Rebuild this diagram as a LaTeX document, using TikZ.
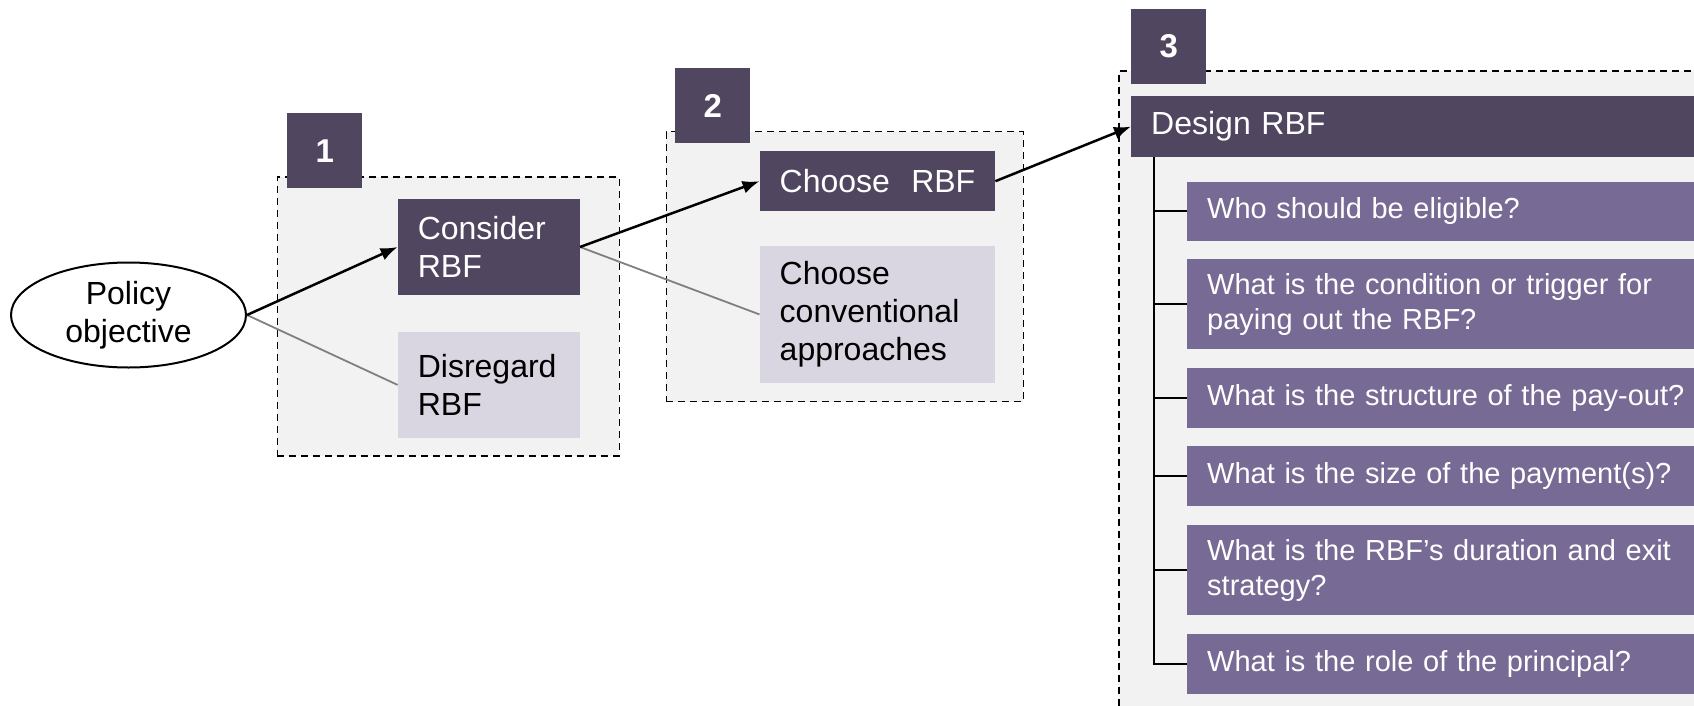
\documentclass[tikz,border=0pt]{standalone}
\usepackage{fontspec}
\setmainfont{Liberation Sans}
\usetikzlibrary{arrows.meta,shapes.geometric,calc}
\definecolor{darkp}{HTML}{504660}
\definecolor{itemp}{HTML}{776A94}
\definecolor{lightp}{HTML}{D9D6E2}
\definecolor{panel}{HTML}{F2F2F2}
\definecolor{link}{HTML}{808080}
\begin{document}
\begin{tikzpicture}[x=1pt,y=-1pt,
  bigtext/.style={font=\fontsize{32}{38}\selectfont},
  smalltext/.style={font=\fontsize{29}{34.6}\selectfont},
  stage/.style={draw=black,line width=1.7pt,dash pattern=on 7pt off 5pt,fill=panel,
    anchor=north west,inner sep=0pt},
  numbox/.style={fill=darkp,text=white,anchor=north west,minimum width=75pt,minimum height=75pt,
    inner sep=0pt,font=\fontsize{33}{38}\selectfont\bfseries},
  darkbox/.style={fill=darkp,text=white,anchor=north west,inner xsep=20pt,inner ysep=0pt,align=left,bigtext},
  lightbox/.style={fill=lightp,text=black,anchor=north west,inner xsep=20pt,inner ysep=0pt,align=left,bigtext},
  qbox/.style={fill=itemp,text=white,anchor=north west,inner xsep=20pt,inner ysep=0pt,align=left,
    minimum width=560pt,text width=520pt,smalltext},
  go/.style={line width=2.5pt,-{Latex[length=17pt,width=13pt]}},
  alt/.style={draw=link,line width=1.8pt},
  tree/.style={draw=black,line width=2pt}]
\clip (0,0) rectangle (1694,706);

% stage containers
\node[stage,minimum width=342pt,minimum height=279pt] (s1) at (276.6,176) {};
\node[stage,minimum width=357pt,minimum height=270pt] (s2) at (665.5,130.7) {};
\node[stage,minimum width=650pt,minimum height=700pt] (s3) at (1118,70) {};

% stage numbers
\node[numbox] (n1) at (287,113) {1};
\node[numbox] (n2) at (675,68) {2};
\node[numbox] (n3) at (1131,8.6) {3};

% start
\node[ellipse,draw=black,line width=2pt,minimum width=235pt,minimum height=105pt,inner sep=0pt,
  align=center,bigtext] (pol) at (128.5,315) {Policy\\objective};

% stage 1
\node[darkbox,minimum width=182pt,minimum height=96pt,text width=142pt] (cons) at (397.6,198.8) {Consider\\RBF};
\node[lightbox,minimum width=182pt,minimum height=106pt,text width=142pt] (disr) at (397.6,331.7) {Disregard\\RBF};

% stage 2
\node[darkbox,minimum width=235.5pt,minimum height=60pt,text width=195.5pt] (chrbf) at (759.5,151) {Choose~~RBF};
\node[lightbox,minimum width=235.5pt,minimum height=136.5pt,text width=195.5pt] (conv) at (759.5,246) {Choose\\conventional\\approaches};

% stage 3
\node[darkbox,minimum width=620pt,minimum height=60.7pt,text width=580pt] (design) at (1131,96) {Design RBF};
\node[qbox,minimum height=59.5pt] (q1) at (1187,181.5) {Who should be eligible?};
\node[qbox,minimum height=90pt] (q2) at (1187,259) {What is the condition or trigger for\\paying out the RBF?};
\node[qbox,minimum height=60pt] (q3) at (1187,368) {What is the structure of the pay-out?};
\node[qbox,minimum height=59.6pt] (q4) at (1187,446) {What is the size of the payment(s)?};
\node[qbox,minimum height=90pt] (q5) at (1187,525) {What is the RBF’s duration and exit\\strategy?};
\node[qbox,minimum height=59.6pt] (q6) at (1187,634) {What is the role of the principal?};

% question tree
\coordinate (trunk) at ($(design.south west)+(23,0)$);
\draw[tree] (trunk) |- (q6.west);
\foreach \q in {q1,q2,q3,q4,q5}
  \draw[tree] (trunk |- \q.west) -- (\q.west);

% decision links
\draw[alt] (pol.east) -- (disr.west);
\draw[alt] (cons.east) -- (conv.west);
\draw[go] (pol.east) -- (cons.west);
\draw[go] (cons.east) -- (chrbf.west);
\draw[go] (chrbf.east) -- (design.west);
\end{tikzpicture}
\end{document}
